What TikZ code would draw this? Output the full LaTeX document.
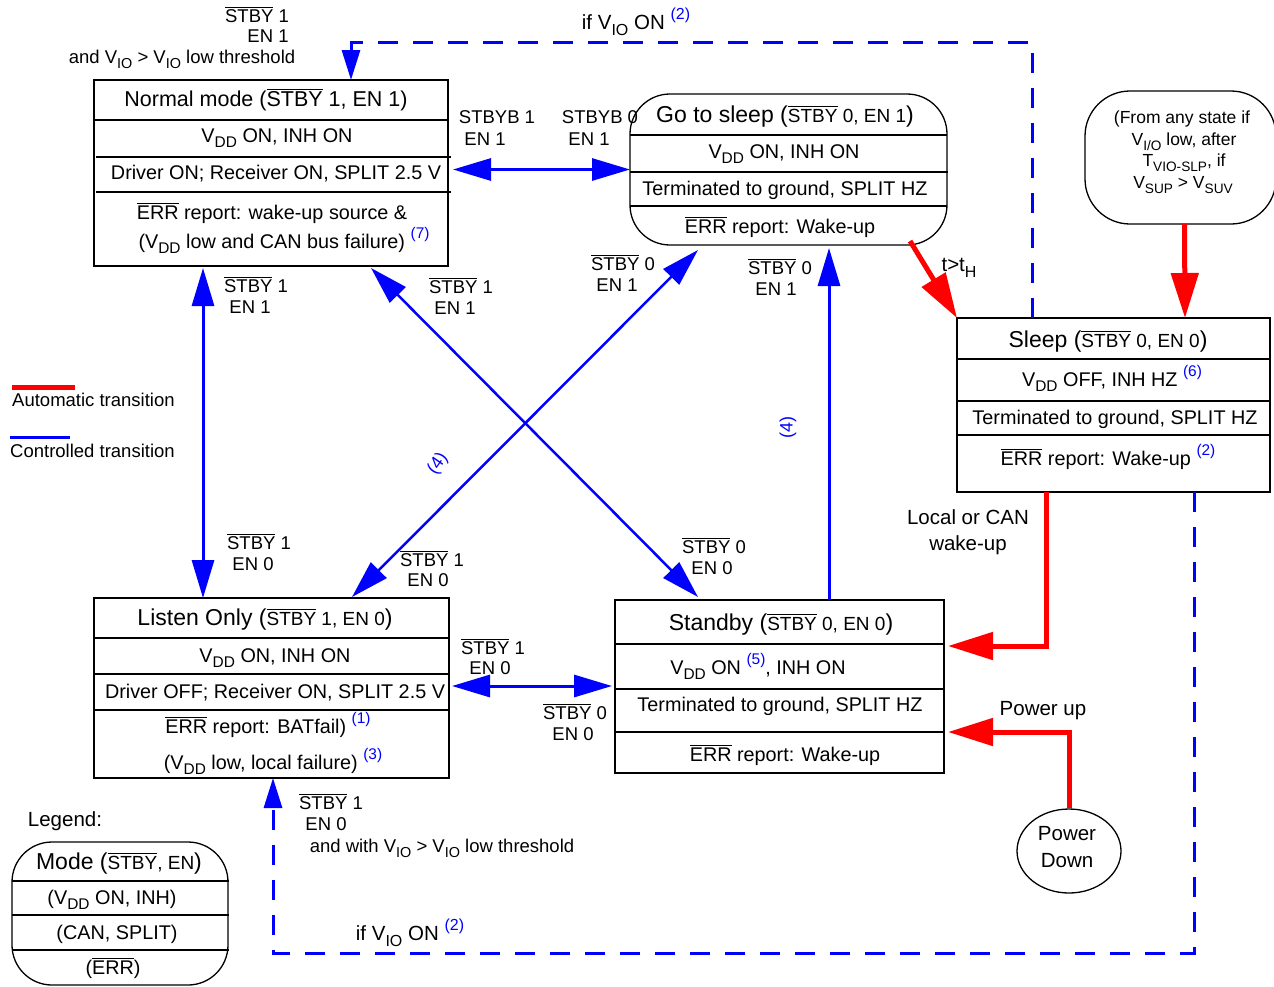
\documentclass[tikz,border=0pt]{standalone}
\usepackage{fontspec}
\usepackage{graphicx}
\setmainfont{Liberation Sans}
\usetikzlibrary{arrows.meta,calc,shapes.geometric}
\newcommand{\ovl}[1]{\vbox{\hrule height 0.9pt\kern 1.4pt\hbox{#1}}}
\newcommand{\nt}[1]{\raisebox{0.5em}{\scalebox{0.78}{\textcolor{blue}{(#1)}}}}
\newcommand{\sbs}[1]{\raisebox{-0.28em}{\scalebox{0.78}{#1}}}
\newcommand{\smf}{\fontsize{19}{22}\selectfont}
\begin{document}
\begin{tikzpicture}[x=1pt,y=-1pt,
  box/.style={draw, line width=2pt, anchor=north west, inner sep=0pt, outer sep=0pt},
  rbox/.style={draw, line width=1.3pt, anchor=north west, inner sep=0pt, outer sep=0pt, rounded corners=40pt},
  rowl/.style={line width=2pt},
  tb/.style={anchor=base, inner sep=0pt, font=\fontsize{19.8}{22}\selectfont, yshift=-7pt},
  tt/.style={anchor=base, inner sep=0pt, font=\fontsize{23}{26}\selectfont, yshift=-8pt},
  lb/.style={anchor=base, inner sep=0pt, font=\fontsize{18.5}{21}\selectfont, yshift=-6.5pt},
  lg/.style={anchor=base, inner sep=0pt, font=\fontsize{20.5}{23}\selectfont, yshift=-7.3pt},
  sm/.style={anchor=base, inner sep=0pt, font=\fontsize{17.5}{20}\selectfont, yshift=-6.2pt},
  four/.style={inner sep=0pt, text=blue, font=\fontsize{18}{20}\selectfont},
  bboth/.style={draw=blue, line width=3pt, {Triangle[length=38pt,width=22pt]}-{Triangle[length=38pt,width=22pt]}},
  bdiag/.style={draw=blue, line width=2.5pt, {Triangle[length=38pt,width=22pt]}-{Triangle[length=38pt,width=22pt]}},
  bone/.style={draw=blue, line width=3pt, -{Triangle[length=38pt,width=22pt]}},
  dsh/.style={draw=blue, line width=3pt, dash pattern=on 20pt off 15pt, -{Triangle[length=30pt,width=18pt]}},
  rarr/.style={draw=red, line width=5pt, -{Triangle[length=45pt,width=27pt]}},
]
\path[use as bounding box] (0,0) rectangle (1274,986);

% ---------------- Normal mode
\node[box, minimum width=354pt, minimum height=186pt] (normal) at (94,80) {};
\draw[rowl] (94,120) -- (448,120);
\draw[rowl] (96,156.5) -- (451,156.5);
\draw[rowl] (96,192) -- (451,192);
\node[anchor=base, inner sep=0pt, font=\fontsize{21.5}{24}\selectfont, yshift=-7.7pt] (n0) at (266,99) {Normal mode (\ovl{STBY} 1, EN 1)};
\node[tb] (n1) at (277,135) {V\sbs{DD} ON, INH ON};
\node[tb] (n2) at (276,172) {Driver ON; Receiver ON, SPLIT 2.5 V};
\node[tb] (n3) at (272,212) {\ovl{ERR} report: wake-up source \&};
\node[tb] (n4) at (284,241) {(V\sbs{DD} low and CAN bus failure) \nt{7}};

% ---------------- Go to sleep
\node[rbox, minimum width=317pt, minimum height=151pt] (gts) at (630,94) {};
\draw[rowl] (630,135) -- (947,135);
\draw[rowl] (630,171.5) -- (948,171.5);
\draw[rowl] (630,206) -- (947,206);
\node[tt] (g0) at (785,114) {Go to sleep ({\smf\ovl{STBY} 0, EN 1})};
\node[tb] (g1) at (784,151) {V\sbs{DD} ON, INH ON};
\node[tb] (g2) at (785,188) {Terminated to ground, SPLIT HZ};
\node[tb] (g3) at (780,226) {\ovl{ERR} report: Wake-up};

% ---------------- From any state
\node[rbox, rounded corners=45pt, minimum width=191pt, minimum height=133pt] (any) at (1085,91) {};
\node[sm] (a0) at (1182,117) {(From any state if};
\node[sm] (a1) at (1184,139) {V\sbs{I/O} low, after};
\node[sm] (a2) at (1184,160) {T\sbs{VIO-SLP}, if};
\node[sm] (a3) at (1183,182) {V\sbs{SUP} > V\sbs{SUV}};

% ---------------- Sleep
\node[box, minimum width=313pt, minimum height=174pt] (sleep) at (957,318) {};
\draw[rowl] (957,359) -- (1270,359);
\draw[rowl] (957,401) -- (1270,401);
\draw[rowl] (957,435) -- (1270,435);
\node[tt] (s0) at (1108,339) {Sleep ({\smf\ovl{STBY} 0, EN 0})};
\node[tb] (s1) at (1112,379) {V\sbs{DD} OFF, INH HZ \nt{6}};
\node[tb] (s2) at (1115,417) {Terminated to ground, SPLIT HZ};
\node[tb] (s3) at (1108,458) {\ovl{ERR} report: Wake-up \nt{2}};

% ---------------- Listen Only
\node[box, minimum width=355pt, minimum height=180pt] (listen) at (94,598) {};
\draw[rowl] (94,638) -- (449,638);
\draw[rowl] (94,674) -- (449,674);
\draw[rowl] (94,710) -- (449,710);
\node[tt] (l0) at (265,617) {Listen Only ({\smf\ovl{STBY} 1, EN 0})};
\node[tb] (l1) at (275,655) {V\sbs{DD} ON, INH ON};
\node[tb] (l2) at (275,691) {Driver OFF; Receiver ON, SPLIT 2.5 V};
\node[tb] (l3) at (268,726) {\ovl{ERR} report: BATfail) \nt{1}};
\node[tb] (l4) at (273,762) {(V\sbs{DD} low, local failure) \nt{3}};

% ---------------- Standby
\node[box, minimum width=329pt, minimum height=173pt] (standby) at (615,600) {};
\draw[rowl] (615,644) -- (944,644);
\draw[rowl] (615,689) -- (944,689);
\draw[rowl] (615,732) -- (944,732);
\node[tt] (b0) at (781,622) {Standby ({\smf\ovl{STBY} 0, EN 0})};
\node[tb] (b1) at (758,667) {V\sbs{DD} ON \nt{5}, INH ON};
\node[tb] (b2) at (780,704) {Terminated to ground, SPLIT HZ};
\node[tb] (b3) at (785,754) {\ovl{ERR} report: Wake-up};

% ---------------- Power down
\node[draw, line width=1.3pt, ellipse, minimum width=104pt, minimum height=84pt, inner sep=0pt] (pd) at (1069,851) {};
\node[lg] (pd1) at (1067,833) {Power};
\node[lg] (pd2) at (1067,860) {Down};

% ---------------- Legend box
\node[lg] (legt) at (65,819) {Legend:};
\node[rbox, minimum width=216pt, minimum height=143pt] (legend) at (12,842) {};
\draw[rowl] (12,881) -- (229,881);
\draw[rowl] (12,915) -- (229,915);
\draw[rowl] (12,950) -- (229,950);
\node[tt] (m0) at (119,861) {Mode ({\smf\ovl{STBY}, EN})};
\node[tb] (m1) at (112,897) {(V\sbs{DD} ON, INH)};
\node[tb] (m2) at (117,932) {(CAN, SPLIT)};
\node[tb] (m3) at (113,967) {(\ovl{ERR})};

% legend lines
\draw[red, line width=5pt] (12,387) -- (75,387);
\node[lb, anchor=base west] (auto) at (12,400) {Automatic transition};
\draw[blue, line width=3pt] (10,437) -- (70,437);
\node[lb, anchor=base west] (ctrl) at (10,451) {Controlled transition};

% ---------------- Blue controlled transitions
\draw[bboth] ($(gts.west)+(-177,0)$) -- (gts.west);
\draw[bboth] ($(normal.south west)+(109,2)$) -- ($(listen.north west)+(109,0)$);
\draw[bdiag] ($(normal.south west)+(277,2)$) -- ($(standby.north west)+(83,-3)$);
\draw[bdiag] ($(gts.south west)+(68,5)$) -- ($(listen.north west)+(258,-1)$);
\draw[bone] ($(standby.north west)+(214,0)$) -- ($(gts.south west)+(199,3)$);
\draw[bboth] ($(listen.north east)+(3,88)$) -- ($(standby.north west)+(-3,86)$);

% dashed
\draw[dsh] ($(sleep.north west)+(75,0)$) -- ++(0,-276) -| ($(normal.north west)+(257,0)$);
\draw[dsh] ($(sleep.south west)+(237,0)$) -- ++(0,461) -| ($(listen.south west)+(179,0)$);

% ---------------- Red automatic transitions
\draw[rarr] ($(any.south)+(4,0)$) -- ($(sleep.north west)+(228,0)$);
\draw[rarr] ($(gts.south east)+(-37,-4)$) -- (sleep.north west);
\draw[rarr] ($(sleep.south west)+(89,0)$) |- ($(standby.north east)+(4,46)$);
\draw[rarr] (pd.north) |- ($(standby.north east)+(4,132)$);

% ---------------- Labels
\node[lb] (t1) at (257,16) {\ovl{STBY} 1};
\node[lb] (t2) at (268,36) {EN 1};
\node[lb] (t3) at (182,57) {and V\sbs{IO} > V\sbs{IO} low threshold};
\node[lg] (t4) at (636,22) {if V\sbs{IO} ON \nt{2}};

\node[lb] (c1) at (497,117) {STBYB 1};
\node[lb] (c2) at (485,139) {EN 1};
\node[lb] (c3) at (600,117) {STBYB 0};
\node[lb] (c4) at (589,139) {EN 1};

\node[lb] (v1) at (256,286) {\ovl{STBY} 1};
\node[lb] (v2) at (250,307) {EN 1};
\node[lb] (v3) at (259,543) {\ovl{STBY} 1};
\node[lb] (v4) at (253,564) {EN 0};

\node[lb] (d1) at (461,287) {\ovl{STBY} 1};
\node[lb] (d2) at (455,308) {EN 1};
\node[lb] (d3) at (623,264) {\ovl{STBY} 0};
\node[lb] (d4) at (617,285) {EN 1};
\node[lb] (d5) at (780,268) {\ovl{STBY} 0};
\node[lb] (d6) at (776,289) {EN 1};
\node[lb] (d7) at (432,560) {\ovl{STBY} 1};
\node[lb] (d8) at (428,580) {EN 0};
\node[lb] (d9) at (714,547) {\ovl{STBY} 0};
\node[lb] (d10) at (712,568) {EN 0};

\node[lb] (h1) at (493,648) {\ovl{STBY} 1};
\node[lb] (h2) at (490,668) {EN 0};
\node[lb] (h3) at (575,713) {\ovl{STBY} 0};
\node[lb] (h4) at (573,734) {EN 0};

\node[lb] (u1) at (331,803) {\ovl{STBY} 1};
\node[lb] (u2) at (326,824) {EN 0};
\node[lb] (u3) at (442,846) {and with V\sbs{IO} > V\sbs{IO} low threshold};
\node[lg] (u4) at (410,933) {if V\sbs{IO} ON \nt{2}};

\node[four, rotate=55] (f1) at (438,464) {(4)};
\node[four, rotate=90] (f2) at (788,427) {(4)};

\node[lg] (th) at (959,264) {t>t\sbs{H}};
\node[lg] (w1) at (968,517) {Local or CAN};
\node[lg] (w2) at (968,543) {wake-up};
\node[lg] (pu) at (1043,708) {Power up};
\end{tikzpicture}
\end{document}
